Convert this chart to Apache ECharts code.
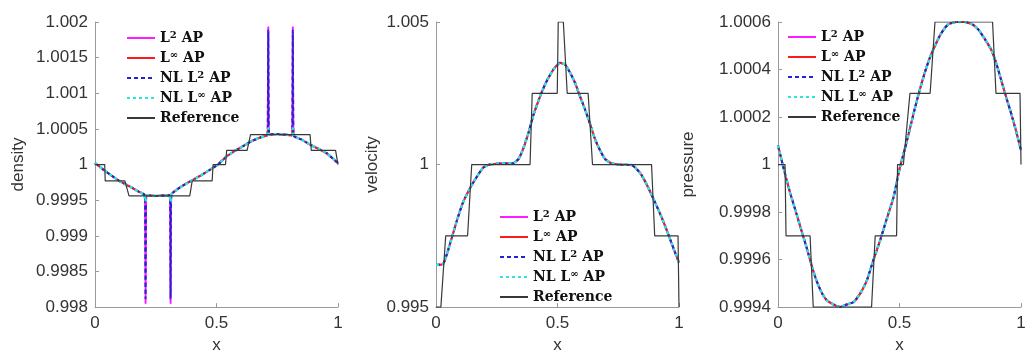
<!DOCTYPE html>
<html>
<head>
<meta charset="utf-8">
<script src="https://cdn.jsdelivr.net/npm/echarts@6/dist/echarts.min.js"></script>
<style>
html,body{margin:0;padding:0;background:#fff;}
#chart{width:1030px;height:359px;}
</style>
</head>
<body>
<div id="chart"></div>
<script>
// ---------- tick labels ----------
const xTicks = [0, 0.5, 1];
const densityTicks = [0.998, 0.9985, 0.999, 0.9995, 1, 1.0005, 1.001, 1.0015, 1.002];
const velocityTicks = [0.995, 1, 1.005];
const pressureTicks = [0.9994, 0.9996, 0.9998, 1, 1.0002, 1.0004, 1.0006];

const seriesNames = ['L² AP', 'L∞ AP', 'NL L² AP', 'NL L∞ AP', 'Reference'];

// ---------- density ----------
const densityL2 = [
  [0,1.00002],[0.03,0.99994],[0.062,0.99986],[0.10,0.99977],[0.144,0.99969],[0.18,0.99962],
  [0.203,0.99958],[0.206,0.99950],[0.208,0.99805],[0.210,0.99950],[0.213,0.99957],
  [0.25,0.99956],[0.306,0.99957],[0.309,0.99950],[0.311,0.99805],[0.313,0.99950],[0.316,0.99959],
  [0.35,0.99968],[0.39,0.99976],[0.432,0.99984],
  [0.47,0.99992],[0.506,1.00000],[0.54,1.00011],[0.575,1.00019],[0.61,1.00026],[0.645,1.00033],
  [0.68,1.00038],[0.708,1.00041],[0.711,1.00050],[0.713,1.00193],[0.715,1.00050],[0.718,1.00042],
  [0.75,1.00043],[0.809,1.00041],[0.812,1.00050],[0.814,1.00193],[0.816,1.00050],[0.819,1.00040],
  [0.85,1.00035],[0.885,1.00028],[0.92,1.00022],[0.953,1.00016],[0.98,1.00008],[1.0,1.00002]
];
const densityNL_L2 = [
  [0,1.00002],[0.03,0.99994],[0.062,0.99986],[0.10,0.99977],[0.144,0.99969],[0.18,0.99962],
  [0.203,0.99958],[0.206,0.99950],[0.208,0.99812],[0.210,0.99950],[0.213,0.99957],
  [0.25,0.99956],[0.306,0.99957],[0.309,0.99950],[0.311,0.99812],[0.313,0.99950],[0.316,0.99959],
  [0.35,0.99968],[0.39,0.99976],[0.432,0.99984],
  [0.47,0.99992],[0.506,1.00000],[0.54,1.00011],[0.575,1.00019],[0.61,1.00026],[0.645,1.00033],
  [0.68,1.00038],[0.708,1.00041],[0.711,1.00050],[0.713,1.00188],[0.715,1.00050],[0.718,1.00042],
  [0.75,1.00043],[0.809,1.00041],[0.812,1.00050],[0.814,1.00188],[0.816,1.00050],[0.819,1.00040],
  [0.85,1.00035],[0.885,1.00028],[0.92,1.00022],[0.953,1.00016],[0.98,1.00008],[1.0,1.00002]
];
const densityLinf = [
  [0,1.00002],[0.03,0.99994],[0.062,0.99986],[0.10,0.99977],[0.144,0.99969],[0.18,0.99962],
  [0.203,0.99958],[0.208,0.99948],[0.213,0.99957],
  [0.25,0.99956],[0.306,0.99957],[0.311,0.99948],[0.316,0.99959],
  [0.35,0.99968],[0.39,0.99976],[0.432,0.99984],
  [0.47,0.99992],[0.506,1.00000],[0.54,1.00011],[0.575,1.00019],[0.61,1.00026],[0.645,1.00033],
  [0.68,1.00038],[0.708,1.00041],[0.713,1.00051],[0.718,1.00042],
  [0.75,1.00043],[0.809,1.00041],[0.814,1.00051],[0.819,1.00040],
  [0.85,1.00035],[0.885,1.00028],[0.92,1.00022],[0.953,1.00016],[0.98,1.00008],[1.0,1.00002]
];
const densityReference = [
  [0,1.0],[0.040,1.0],[0.042,0.99977],[0.123,0.99977],[0.140,0.99956],[0.390,0.99956],
  [0.400,0.99977],[0.482,0.99977],[0.486,1.0],[0.537,1.0],[0.542,1.0002],[0.626,1.0002],
  [0.640,1.00042],[0.885,1.00042],[0.890,1.0002],[0.990,1.0002],[1.0,1.0]
];

// ---------- velocity ----------
const velocityNumerical = [
  [0,0.99648],[0.03,0.99652],[0.05,0.99700],[0.085,0.99801],[0.11,0.99865],[0.14,0.99917],
  [0.17,0.99960],[0.195,0.99990],[0.22,1.00000],[0.25,1.00003],[0.318,1.00005],[0.34,1.00020],
  [0.359,1.00056],[0.38,1.00110],[0.40,1.00171],[0.42,1.00220],[0.44,1.00264],[0.46,1.00300],
  [0.483,1.00333],[0.51,1.00357],[0.531,1.00351],[0.55,1.00325],[0.572,1.00287],[0.59,1.00245],
  [0.613,1.00194],[0.635,1.00140],[0.654,1.00090],[0.675,1.00050],[0.695,1.00020],[0.72,1.00005],
  [0.75,1.00000],[0.805,0.99998],[0.825,0.99985],[0.846,0.99963],[0.87,0.99925],[0.90,0.99870],
  [0.93,0.99812],[0.956,0.99755],[0.98,0.99700],[1.0,0.99656]
];
const velocityReference = [
  [0,0.995],[0.02,0.995],[0.04,0.9975],[0.13,0.9975],[0.147,1.0],[0.387,1.0],[0.396,1.0025],
  [0.499,1.0025],[0.503,1.005],[0.524,1.005],[0.540,1.0025],[0.626,1.0025],[0.644,1.0],
  [0.887,1.0],[0.900,0.9975],[0.996,0.9975],[1.0,0.995]
];

// ---------- pressure ----------
const pressureNumerical = [
  [0,1.00008],[0.029,0.99996],[0.05,0.99988],[0.077,0.99979],[0.10,0.99971],[0.118,0.99965],
  [0.14,0.99957],[0.159,0.99951],[0.18,0.99946],[0.20,0.99943],[0.23,0.99941],[0.255,0.99940],
  [0.28,0.99941],[0.31,0.99942],[0.34,0.99946],[0.365,0.99951],[0.39,0.99959],[0.42,0.99968],
  [0.45,0.99978],[0.475,0.99986],[0.502,0.99999],[0.523,1.00007],[0.545,1.00016],[0.564,1.00024],
  [0.585,1.00032],[0.605,1.00039],[0.625,1.00045],[0.646,1.00050],[0.67,1.00055],[0.70,1.00059],
  [0.735,1.00060],[0.77,1.00060],[0.80,1.00059],[0.823,1.00057],[0.85,1.00053],[0.879,1.00048],
  [0.90,1.00042],[0.92,1.00035],[0.94,1.00028],[0.961,1.00021],[0.98,1.00014],[1.0,1.00006]
];
const pressureReference = [
  [0,1.0],[0.029,1.0],[0.033,0.9997],[0.132,0.9997],[0.145,0.9994],[0.385,0.9994],[0.400,0.9997],
  [0.488,0.9997],[0.492,1.0],[0.516,1.0],[0.543,1.0003],[0.626,1.0003],[0.646,1.0006],
  [0.883,1.0006],[0.897,1.0003],[0.996,1.0003],[1.0,1.0]
];

// ---------- styles ----------
const seriesStyles = [
  {color:'#ff1aff', width:2, type:'solid'},
  {color:'#ff1a1a', width:2, type:'solid'},
  {color:'#2323d0', width:2, type:[4,3]},
  {color:'#2ee6d6', width:2.6, type:[3,3]},
  {color:'#383838', width:1.2, type:'solid'}
];

const panels = [
  {name:'density', ticks:densityTicks, data:[densityL2, densityLinf, densityNL_L2, densityLinf, densityReference],
   grid:{left:95, top:22, width:243, height:286}, nameGap:68, legend:{left:126, top:30}},
  {name:'velocity', ticks:velocityTicks, data:[velocityNumerical, velocityNumerical, velocityNumerical, velocityNumerical, velocityReference],
   grid:{left:436, top:22, width:243, height:288}, nameGap:55, legend:{left:499, top:209}},
  {name:'pressure', ticks:pressureTicks, data:[pressureNumerical, pressureNumerical, pressureNumerical, pressureNumerical, pressureReference],
   grid:{left:778, top:22, width:243, height:287}, nameGap:81, legend:{left:787, top:29}}
];

const fmt = v => String(parseFloat(Number(v).toFixed(5)));
const tickFont = {fontFamily:'Liberation Sans, Arial, sans-serif', fontSize:17, color:'#333'};
const axisLineStyle = {lineStyle:{color:'#9a9a9a', width:1}};

const option = {
  backgroundColor:'#fff',
  animation:false,
  grid:[], xAxis:[], yAxis:[], series:[], legend:[]
};

panels.forEach((p, i) => {
  option.grid.push(p.grid);
  option.xAxis.push({
    type:'value', gridIndex:i, min:xTicks[0], max:xTicks[xTicks.length-1],
    interval:+(xTicks[1]-xTicks[0]).toFixed(6),
    name:'x', nameLocation:'middle', nameGap:25,
    nameTextStyle:tickFont,
    axisLine:{show:true, ...axisLineStyle},
    axisTick:{show:true, inside:true, length:4, lineStyle:{color:'#9a9a9a'}},
    axisLabel:{...tickFont, margin:8, formatter:fmt},
    splitLine:{show:false}
  });
  option.yAxis.push({
    type:'value', gridIndex:i, min:p.ticks[0], max:p.ticks[p.ticks.length-1],
    interval:+(p.ticks[1]-p.ticks[0]).toFixed(6),
    name:p.name, nameLocation:'middle', nameGap:p.nameGap,
    nameTextStyle:tickFont,
    axisLine:{show:true, ...axisLineStyle},
    axisTick:{show:true, inside:true, length:4, lineStyle:{color:'#9a9a9a'}},
    axisLabel:{...tickFont, margin:7, formatter:fmt},
    splitLine:{show:false}
  });
  seriesNames.forEach((nm, k) => {
    const st = seriesStyles[k];
    option.series.push({
      type:'line', name:nm, xAxisIndex:i, yAxisIndex:i,
      data:p.data[k], symbol:'none', showSymbol:false,
      smooth: (k === 4) ? false : 0.15,
      color:st.color,
      lineStyle:{color:st.color, width:st.width, type:st.type},
      z: 2 + k
    });
  });
  option.legend.push({
    orient:'vertical', left:p.legend.left, top:p.legend.top,
    data:seriesNames, itemWidth:28, itemHeight:14, itemGap:4,
    selectedMode:false, padding:0,
    itemStyle:{color:'rgba(0,0,0,0)', borderColor:'rgba(0,0,0,0)', borderWidth:0, opacity:0},
    formatter: nm => nm.replace('²','{sup|2}').replace('∞','{sup|∞}'),
    textStyle:{
      fontFamily:'DejaVu Serif, serif', fontWeight:'bold', fontSize:14, color:'#111', lineHeight:16,
      rich:{
        sup:{fontFamily:'DejaVu Serif, serif', fontWeight:'bold', fontSize:10, color:'#111', lineHeight:16, verticalAlign:'top'}
      }
    }
  });
});

const chart = echarts.init(document.getElementById('chart'), null, {renderer:'canvas'});
chart.setOption(option);
</script>
</body>
</html>
